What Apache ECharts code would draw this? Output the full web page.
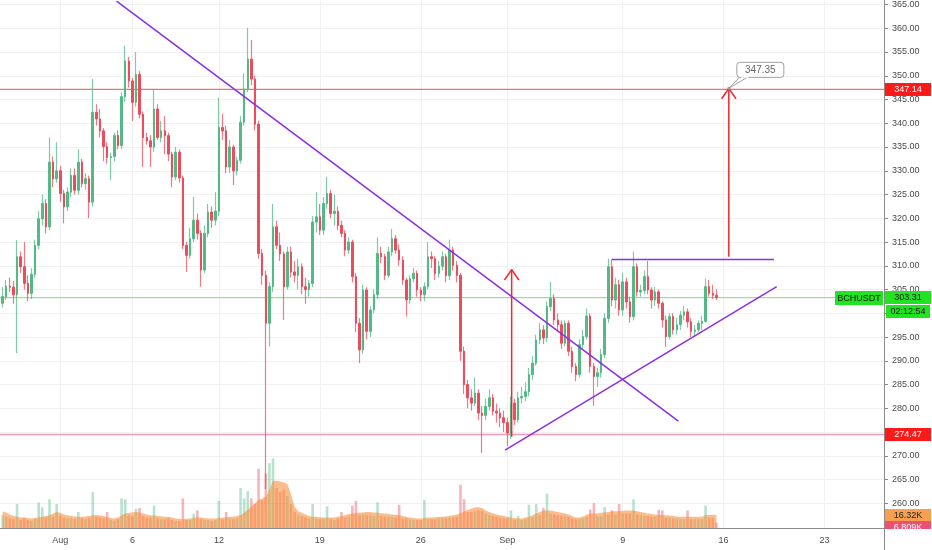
<!DOCTYPE html>
<html><head><meta charset="utf-8">
<script src="https://cdn.jsdelivr.net/npm/echarts@6/dist/echarts.min.js"></script>
<style>html,body{margin:0;padding:0;background:#fff}#c{width:932px;height:550px}</style>
</head><body><div id="c"></div>
<script>
// ---- DATA ----
const startDay = -4;          // first candle: Jul 28 00:00 (days relative to Aug 1)
const candlesPerDay = 4;      // 6h candles
// [open, close, low, high]
const ohlc = [
[302.1,303.5,301.2,305.5],[303.5,305.7,302.8,307.0],[305.7,305.5,304.5,307.5],[305.5,303.9,302.0,306.8],[303.9,311.9,291.6,315.4],
[311.9,309.8,308.5,313.0],[309.8,306.3,305.0,315.0],[306.3,304.2,302.5,308.0],[304.2,308.2,303.0,309.5],[308.2,314.3,307.5,315.5],
[314.3,319.9,313.5,321.5],[319.9,323.1,318.5,325.0],[323.1,318.2,316.8,324.0],[318.2,331.8,317.5,337.0],[331.8,328.3,326.5,333.0],
[328.3,330.0,327.5,336.0],[330.0,325.2,323.5,331.0],[325.2,322.4,318.9,326.0],[322.4,325.5,321.5,326.5],[325.5,329.0,324.5,330.5],
[329.0,325.9,325.0,330.5],[325.9,331.8,325.0,334.5],[331.8,327.3,326.5,332.5],[327.3,328.3,326.0,329.5],[328.3,323.4,320.0,329.0],
[323.4,342.3,322.5,349.3],[342.3,340.9,339.5,344.0],[340.9,338.4,337.0,343.0],[338.4,335.1,332.0,339.0],[335.1,332.8,331.5,336.0],
[332.8,333.0,328.0,333.8],[333.0,337.4,332.0,338.0],[337.4,335.3,334.5,338.5],[335.3,345.6,334.5,346.5],[345.6,353.1,344.5,356.3],
[353.1,348.9,347.5,354.0],[348.9,344.4,340.5,349.5],[344.4,350.3,343.5,355.0],[350.3,341.9,341.0,351.0],[341.9,337.0,330.8,342.5],
[337.0,336.3,335.5,338.0],[336.3,335.0,330.8,337.5],[335.0,343.0,334.0,347.2],[343.0,337.0,336.5,344.0],[337.0,338.4,336.0,340.5],
[338.4,337.4,333.5,341.5],[337.4,333.5,332.0,338.0],[333.5,328.7,326.5,334.0],[328.7,333.9,328.0,335.0],[333.9,328.5,327.5,334.5],
[328.5,314.3,313.5,329.0],[314.3,312.2,308.7,315.0],[312.2,315.7,311.5,318.0],[315.7,319.6,315.0,324.5],[319.6,316.8,315.5,321.0],
[316.8,309.1,305.6,317.5],[309.1,316.8,308.5,318.5],[316.8,321.3,316.0,323.0],[321.3,319.6,318.0,322.5],[319.6,321.5,318.5,325.5],
[321.5,339.1,320.5,345.4],[339.1,338.4,336.5,342.0],[338.4,330.8,329.5,339.5],[330.8,335.0,329.5,336.5],[335.0,330.0,327.0,335.5],
[330.0,332.2,329.0,333.0],[332.2,340.2,331.5,341.5],[340.2,347.2,339.5,350.5],[347.2,353.5,346.5,360.1],[353.5,349.3,348.0,357.5],
[349.3,339.8,338.5,350.0],[339.8,312.6,311.5,340.5],[312.6,308.0,306.0,313.5],[308.0,297.9,263.0,309.0],[297.9,305.6,293.0,306.5],
[305.6,318.2,304.5,323.0],[318.2,314.3,313.5,319.5],[314.3,312.5,311.0,317.0],[312.5,305.6,298.6,313.0],[305.6,312.9,305.0,314.0],
[312.9,308.7,307.5,314.0],[308.7,308.0,306.5,311.0],[308.0,309.8,305.0,311.5],[309.8,305.6,304.0,310.5],[305.6,305.0,302.0,307.5],
[305.0,306.3,303.5,307.0],[306.3,319.2,305.5,320.5],[319.2,320.3,317.0,325.5],[320.3,317.5,316.5,323.0],[317.5,323.1,316.5,324.5],
[323.1,325.2,322.0,328.7],[325.2,321.0,320.0,326.0],[321.0,321.5,318.5,325.0],[321.5,318.5,317.5,322.5],[318.5,316.8,316.0,319.5],
[316.8,313.3,312.0,317.5],[313.3,315.0,312.5,316.0],[315.0,307.7,306.5,315.5],[307.7,297.9,296.0,308.5],[297.9,292.3,289.5,299.0],
[292.3,304.9,291.5,306.0],[304.9,296.2,294.5,305.5],[296.2,300.7,295.0,301.5],[300.7,303.9,300.0,305.0],[303.9,312.6,303.0,316.0],
[312.6,311.9,310.5,314.0],[311.9,308.0,307.0,312.5],[308.0,312.9,307.5,314.0],[312.9,315.7,312.0,317.8],[315.7,313.3,312.5,316.5],
[313.3,311.2,310.0,314.5],[311.2,307.0,306.0,312.0],[307.0,302.8,299.3,307.5],[302.8,307.3,302.0,308.0],[307.3,308.4,306.5,309.5],
[308.4,304.9,303.5,309.0],[304.9,303.9,302.5,305.5],[303.9,305.6,302.5,306.5],[305.6,311.9,305.0,315.0],[311.9,311.5,309.5,313.0],
[311.5,308.4,307.0,312.0],[308.4,309.9,307.5,311.0],[309.9,311.9,309.0,313.0],[311.9,307.9,306.5,312.5],[307.9,313.3,307.0,315.5],
[313.3,310.1,309.0,314.0],[310.1,308.0,306.5,311.0],[308.0,292.0,290.0,308.5],[292.0,285.0,283.0,293.0],[285.0,282.2,280.0,286.0],
[282.2,281.1,279.5,284.0],[281.1,283.2,280.5,286.5],[283.2,279.0,277.5,284.0],[279.0,278.5,270.6,280.5],[278.5,280.4,277.5,282.0],
[280.4,282.2,279.5,284.0],[282.2,279.4,278.5,283.0],[279.4,279.0,277.0,281.0],[279.0,278.0,276.0,280.0],[278.0,277.0,275.0,279.5],
[277.0,274.8,272.0,278.0],[274.8,281.1,273.5,282.5],[281.1,277.6,276.5,282.0],[277.6,282.2,277.0,283.5],[282.2,282.5,281.0,284.5],
[282.5,283.5,281.5,285.5],[283.5,287.1,282.5,288.5],[287.1,289.5,286.0,291.0],[289.5,294.4,289.0,295.5],[294.4,296.5,293.5,298.0],
[296.5,294.8,293.5,297.5],[294.8,301.4,294.0,302.5],[301.4,303.1,300.5,306.6],[303.1,298.6,297.5,304.0],[298.6,297.6,296.5,300.0],
[297.6,293.7,292.5,298.5],[293.7,297.9,293.0,298.5],[297.9,292.0,291.0,298.5],[292.0,288.8,287.5,293.0],[288.8,287.1,285.7,289.5],
[287.1,293.4,286.5,294.5],[293.4,295.1,292.5,296.5],[295.1,299.4,294.5,301.0],[299.4,288.8,287.5,300.0],[288.8,286.7,280.5,289.5],
[286.7,287.5,284.5,288.5],[287.5,291.3,286.5,292.5],[291.3,298.9,290.5,300.0],[298.9,309.8,298.0,311.5],[309.8,302.8,301.5,311.3],
[302.8,306.0,301.0,307.5],[306.0,300.7,299.5,307.0],[300.7,306.6,299.5,308.5],[306.6,302.4,301.0,307.5],[302.4,299.3,298.0,303.5],
[299.3,309.8,298.5,313.0],[309.8,304.5,303.5,310.5],[304.5,304.8,303.5,306.0],[304.8,307.7,304.0,309.0],[307.7,304.9,304.0,311.0],
[304.9,302.8,301.0,305.5],[302.8,304.5,301.5,305.5],[304.5,302.1,301.0,305.0],[302.1,298.6,297.0,302.5],[298.6,295.1,293.0,299.5],
[295.1,299.3,294.5,300.0],[299.3,296.5,295.5,300.0],[296.5,297.6,295.5,299.0],[297.6,299.6,296.5,300.5],[299.6,300.3,298.5,301.5],
[300.3,298.2,297.0,301.0],[298.2,296.2,295.0,299.0],[296.2,296.5,295.0,297.5],[296.5,297.9,296.0,298.5],[297.9,298.3,296.5,299.5],
[298.3,305.6,298.0,307.3],[305.6,304.2,303.5,307.0],[304.2,303.8,303.0,306.0],[303.8,303.3,302.8,305.0]
];
// volume in thousands
const volumes = [
16,14,12,11,30,10,12,10,9,11, 32,26,13,36,14,30,15,13,12,12, 11,20,12,11,13,45,14,13,12,20,
10,9,11,37,36,16,15,24,25,15, 13,13,28,12,11,11,12,10,9,9, 37,10,10,18,22,11,10,10,9,10,
34,11,20,12,11,12,50,37,46,37, 30,74,35,68,81,87,50,45,48,40, 30,20,16,15,13,12,30,12,11,11,
27,11,10,12,20,13,14,28,34,16, 17,16,16,15,32,15,14,14,14,13, 29,12,12,11,10,10,10,35,11,11,
11,12,12,12,13,13,14,54,36,20, 20,21,22,21,18,16,15,14,13,12, 12,22,10,15,10,11,29,13,30,16,
25,43,18,17,16,15,15,14,12,11, 11,12,14,23,31,15,15,26,17,22, 17,30,18,18,18,36,17,16,15,15,
14,14,23,22,13,13,12,12,11,11, 22,11,11,11,11,28,13,13,6.809
];
const volumeMA = [
21,19,17,15,14,13,13,12.5,12,12.5, 13.5,14,15,16,18,20,19,17,16,15, 14.5,14,14,14.5,15,16,16,16,15,13.5,
12.5,12,13,16,18,19,19.5,20,19.5,18, 17,16,15.5,15,14.5,14,14,13,12,11.5, 11,11.5,12,12.5,13,13,12.5,12,12,12,
12.5,13,13.5,14,14,15,16,19,23,27, 31,35,37,39,48,59,59,58,57,55, 42,27,21,19,17,15,14,14,13.5,13,
13,13,13,14,15,16,17.5,18,18.5,19, 19.5,20,20,19.5,19,18.5,18,17.5,17,16.5, 16,15,14,13,12.5,12,12,12.5,13,13,
13.5,14,14,14.5,15,16,17,18.5,20.5,22.5, 24,25.5,26,25,22,20,18,17,16,15, 14,13,12.5,12,12,13,14,16,18,20,
21.5,22,22,21,20,19,18,17,15,13, 13,14.5,16.5,18,18,18.5,19,19.5,20,20.5, 21,21,21.5,22,22,22,21,20,19,18,
17.5,17,16.5,16,16,15.5,15,14.5,14,14, 14,14,14,14,14,16,16.5,16.5,16.32
];
const xTickDays = [0, 5, 11, 18, 25, 31, 39, 46, 53];
const xTickLabels = ['Aug', '6', '12', '19', '26', 'Sep', '9', '16', '23'];
const priceTicks = [260,265,270,275,280,285,290,295,300,305,310,315,320,325,330,335,340,345,350,355,360,365];
const resistanceLevel = 347.14;
const supportLevel = 274.47;
const lastPrice = 303.31;
const lastVolumeMA = 16.32;
const lastVolume = 6.809;
const symbolName = 'BCHUSDT';
const countdown = '02:12:54';
const targetPrice = 347.35;
// drawings, [day, price]
const descendingLine = [[3.9, 365.7], [42.86, 277.28]];
const ascendingLine = [[30.84, 271.2], [49.68, 305.6]];
const triangleTop = [[38.24, 311.3], [49.49, 311.3]];
const arrowLeft = [[31.30, 274.0], [31.30, 309.2]];
const arrowRight = [[46.36, 311.9], [46.36, 347.35]];

// ---- CHART ----
const UP = '#53b987', DOWN = '#eb4d5c';
const FONT = '"Liberation Sans", Arial, sans-serif';
const chart = echarts.init(document.getElementById('c'));
const xs = ohlc.map((_, i) => startDay + i / candlesPerDay);
const wickData = ohlc.map((r, i) => [xs[i], r[0], r[1], r[2], r[3]]);
const bodyData = ohlc.map((r, i) => [xs[i], r[0], r[1], Math.min(r[0], r[1]), Math.max(r[0], r[1])]);
const volData = volumes.map((v, i) => ({value: [xs[i], v], itemStyle: {color: ohlc[i][1] >= ohlc[i][0] ? 'rgba(83,185,135,0.42)' : 'rgba(235,77,92,0.42)'}}));
const maData = volumeMA.map((v, i) => [xs[i], v]);
const XMIN = -4.182, XMAX = 57.122;

function head(p) { // open chevron at arrow tip
  const [x, y] = p[1];
  return [[x - 0.5, y - 2.2], [x, y], [x + 0.5, y - 2.2]];
}
function lineSeries(data, color, width, z) {
  return {type: 'line', xAxisIndex: 0, yAxisIndex: 0, data, symbol: 'none', silent: true,
    lineStyle: {color, width}, itemStyle: {color}, z, clip: true, animation: false};
}
function level(v) { return [[XMIN, v], [XMAX, v]]; }

const xAxisCommon = {type: 'value', min: XMIN, max: XMAX};
chart.setOption({
  animation: false,
  backgroundColor: '#ffffff',
  grid: [
    {left: 0, right: 48, top: 0, bottom: 22},
    {left: 0, right: 48, top: 428, bottom: 22}
  ],
  xAxis: [
    Object.assign({}, xAxisCommon, {gridIndex: 0,
      axisLine: {show: true, onZero: false, lineStyle: {color: '#8a8a8a'}},
      axisTick: {show: false, customValues: xTickDays},
      axisLabel: {customValues: xTickDays, color: '#4a4a4a', fontSize: 9, fontFamily: FONT, margin: 8,
        formatter: v => xTickLabels[xTickDays.indexOf(Math.round(v))] || ''},
      splitLine: {show: true, lineStyle: {color: '#f1f1f4', width: 1}}}),
    Object.assign({}, xAxisCommon, {gridIndex: 1, show: false})
  ],
  yAxis: [
    {type: 'value', gridIndex: 0, position: 'right', min: 254.8, max: 365.7,
      axisLine: {show: true, onZero: false, lineStyle: {color: '#8a8a8a'}},
      axisTick: {show: true, length: 4, lineStyle: {color: '#8a8a8a'}, customValues: priceTicks},
      axisLabel: {customValues: priceTicks, color: '#4a4a4a', fontSize: 9, fontFamily: FONT, margin: 8,
        formatter: v => v.toFixed(2)},
      splitLine: {show: true, lineStyle: {color: '#f1f1f4', width: 1}}},
    {type: 'value', gridIndex: 1, min: 0, max: 125, show: false, splitLine: {show: false}}
  ],
  series: [
    {type: 'bar', xAxisIndex: 1, yAxisIndex: 1, data: volData, barWidth: 2.6, z: 1, silent: true},
    {type: 'line', xAxisIndex: 1, yAxisIndex: 1, data: maData, symbol: 'none', z: 2, silent: true,
      lineStyle: {width: 0}, areaStyle: {color: 'rgba(248,140,55,0.82)', origin: 'start'}},
    lineSeries(level(resistanceLevel), '#f4735f', 1.3, 2),
    lineSeries(level(supportLevel), '#f39ab9', 1.5, 2),
    lineSeries(level(lastPrice), '#8fe68f', 1.3, 2),
    {type: 'candlestick', xAxisIndex: 0, yAxisIndex: 0, data: wickData, encode: {x: 0, y: [1, 2, 3, 4]},
      barWidth: 1, z: 3, silent: true,
      itemStyle: {color: 'transparent', color0: 'transparent', borderColor: 'rgba(83,185,135,0.75)', borderColor0: 'rgba(235,77,92,0.75)', borderWidth: 1.2}},
    {type: 'candlestick', xAxisIndex: 0, yAxisIndex: 0, data: bodyData, encode: {x: 0, y: [1, 2, 3, 4]},
      barWidth: 2, z: 4, silent: true,
      itemStyle: {color: UP, color0: DOWN, borderColor: UP, borderColor0: DOWN, borderWidth: 1}},
    lineSeries(descendingLine, '#8c2ee6', 1.5, 6),
    lineSeries(ascendingLine, '#8c2ee6', 1.5, 6),
    lineSeries(triangleTop, '#8c2ee6', 1.5, 6),
    lineSeries(arrowLeft, '#f2262f', 1.5, 6),
    lineSeries(head(arrowLeft), '#f2262f', 1.5, 6),
    lineSeries(arrowRight, '#f2262f', 1.5, 6),
    lineSeries(head(arrowRight), '#f2262f', 1.5, 6)
  ]
});

// ---- axis tags & callout, positioned through the chart's scales ----
const P = (x, y) => chart.convertToPixel({xAxisIndex: 0, yAxisIndex: 0}, [x, y]);
const V = (v) => chart.convertToPixel({xAxisIndex: 1, yAxisIndex: 1}, [0, v])[1];
const axisX = P(XMAX, 300)[0];
function tag(x, yc, w, h, text, bg, fg) {
  const top = Math.round(yc - h / 2);
  return [
    {type: 'rect', z: 100, shape: {x: x, y: top, width: w, height: h}, style: {fill: bg}},
    {type: 'text', z: 101, style: {x: x + w / 2, y: top + h / 2 + 0.5, text: text, fill: fg, font: '9px ' + FONT, align: 'center', verticalAlign: 'middle'}}
  ];
}
const yRes = P(0, resistanceLevel)[1];
const ySup = P(0, supportLevel)[1];
const yLast = P(0, lastPrice)[1];
const tip = P(arrowRight[1][0], targetPrice);
const yMA = V(lastVolumeMA);
const graphics = [].concat(
  tag(axisX + 1, yRes, 46, 13, resistanceLevel.toFixed(2), '#ff1a1a', '#ffffff'),
  tag(axisX + 1, ySup, 46, 13, supportLevel.toFixed(2), '#ff1a1a', '#ffffff'),
  tag(axisX + 1, yLast, 46, 13, lastPrice.toFixed(2), '#22e322', '#111111'),
  tag(axisX + 2, yLast + 14, 44, 13, countdown, '#22e322', '#111111'),
  tag(axisX - 49, yLast, 48, 14, symbolName, '#22e322', '#111111'),
  tag(axisX + 1, yMA, 46, 12, lastVolumeMA.toFixed(2) + 'K', '#f7a04f', '#222222'),
  tag(axisX + 1, yMA + 12.5, 46, 12, lastVolume.toFixed(3) + 'K', '#ee4f72', '#ffffff'),
  [
  // mask below the time axis
  {type: 'rect', z: 110, shape: {x: axisX + 0.5, y: 529, width: 60, height: 21}, style: {fill: '#ffffff'}},
  {type: 'line', z: 111, shape: {x1: axisX + 0.5, y1: 0, x2: axisX + 0.5, y2: 550}, style: {stroke: '#8a8a8a', lineWidth: 1}},
  // callout with target price
  {type: 'polygon', z: 120, shape: {points: [[tip[0] + 12, tip[1] - 12], [tip[0] + 20, tip[1] - 12], tip]},
    style: {fill: '#ffffff', stroke: '#a0a0a0', lineWidth: 1}},
  {type: 'rect', z: 121, shape: {x: tip[0] + 8, y: tip[1] - 26, width: 47, height: 15, r: 3},
    style: {fill: '#ffffff', stroke: '#a0a0a0', lineWidth: 1}},
  {type: 'rect', z: 122, shape: {x: tip[0] + 12.5, y: tip[1] - 12.5, width: 7, height: 2}, style: {fill: '#ffffff'}},
  {type: 'text', z: 123, style: {x: tip[0] + 31.5, y: tip[1] - 18.5, text: targetPrice.toFixed(2), fill: '#666666', font: '10px ' + FONT, align: 'center', verticalAlign: 'middle'}},
  {type: 'circle', z: 124, shape: {cx: tip[0], cy: tip[1], r: 1.5}, style: {fill: '#9a9a9a'}}
  ]
);
chart.setOption({graphic: graphics});
</script></body></html>
